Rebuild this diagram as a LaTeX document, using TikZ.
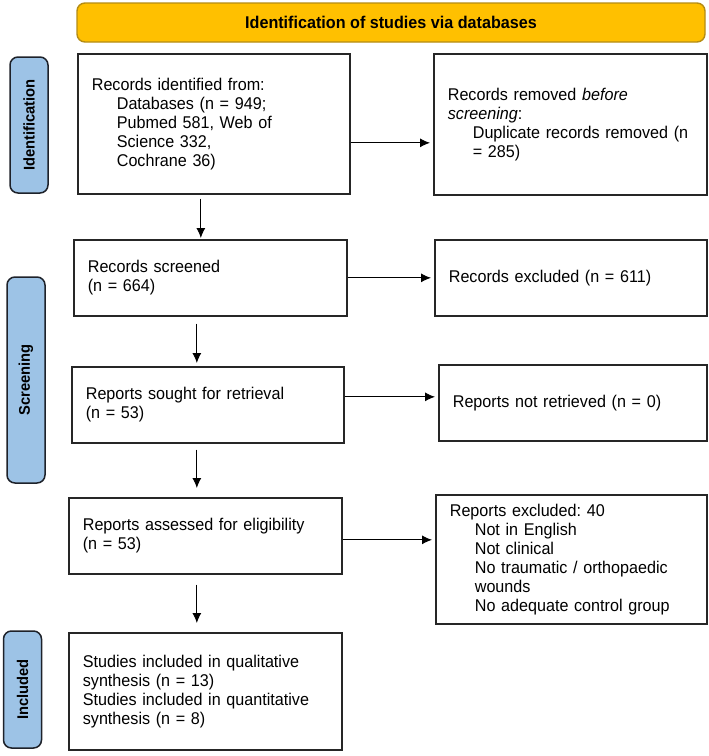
\documentclass[tikz,border=0pt]{standalone}
\usepackage{fontspec}
\setmainfont{Liberation Sans}[FakeStretch=0.95]
\usetikzlibrary{arrows.meta}
\definecolor{hdrfill}{RGB}{255,192,0}
\definecolor{hdrline}{RGB}{180,140,20}
\definecolor{tabfill}{RGB}{157,195,230}
\definecolor{tabline}{RGB}{30,34,42}
\definecolor{boxline}{RGB}{38,38,38}
\newcommand{\indentline}{\hspace*{25pt}}
\frenchspacing
\begin{document}
\begin{tikzpicture}[x=1pt,y=-1pt,font=\fontsize{17}{19}\selectfont,
    box/.style={draw=boxline,line width=1.7pt,anchor=north west,align=left,inner xsep=14pt,inner ysep=0pt},
    tab/.style={draw=tabline,fill=tabfill,line width=1.5pt,rounded corners=8pt,rotate=90,inner sep=0pt,
      minimum height=38pt,font=\bfseries\fontsize{15.5}{17}\selectfont},
    arr/.style={-{Latex[length=10pt,width=9pt]},line width=0.9pt,shorten >=3pt}]
  \useasboundingbox (0,0) rectangle (709,756);

  \node[draw=hdrline,fill=hdrfill,line width=1.4pt,rounded corners=8pt,inner sep=0pt,
    minimum width=628pt,minimum height=39pt,font=\bfseries\fontsize{17}{19}\selectfont]
    (hdr) at (391,22.5) {Identification of studies via databases};

  \node[tab,minimum width=136pt] (tabid) at (29,125) {Identification};
  \node[tab,minimum width=206pt] (tabscr) at (26,380) {Screening};
  \node[tab,minimum width=117pt] (tabinc) at (22.5,689.5) {Included};

  % left column
  \node[box,text width=244pt,minimum height=140pt] (ident) at (77,53)
    {Records identified from:\\\indentline Databases (n = 949;\\\indentline Pubmed 581, Web of\\\indentline Science 332,\\\indentline Cochrane 36)};
  \node[box,text width=245pt,minimum height=76pt] (screened) at (73,239)
    {Records screened\\(n = 664)};
  \node[box,text width=244pt,minimum height=76pt] (sought) at (71,366)
    {Reports sought for retrieval\\(n = 53)};
  \node[box,text width=245pt,minimum height=76pt] (assessed) at (68,497)
    {Reports assessed for eligibility\\(n = 53)};
  \node[box,text width=245pt,minimum height=117pt] (included) at (68,632)
    {Studies included in qualitative\\synthesis (n = 13)\\Studies included in quantitative\\synthesis (n = 8)};

  % right column
  \node[box,text width=245pt,minimum height=141pt] (removed) at (433,53)
    {Records removed \textit{before}\\\textit{screening}:\\\indentline Duplicate records removed (n\\\indentline = 285)};
  \node[box,text width=244pt,minimum height=76pt] (excluded) at (434,239)
    {Records excluded (n = 611)};
  \node[box,text width=240pt,minimum height=76pt] (notretr) at (438,364)
    {Reports not retrieved (n = 0)};
  \node[box,text width=243pt,minimum height=129pt] (repexcl) at (435,494)
    {Reports excluded: 40\\\indentline Not in English\\\indentline Not clinical\\\indentline No traumatic / orthopaedic\\\indentline wounds\\\indentline No adequate control group};

  \draw[arr] ([yshift=-19pt]ident.east) -- ([yshift=-19pt]ident.east -| removed.west);
  \draw[arr] (screened.east) -- (screened.east -| excluded.west);
  \draw[arr] ([yshift=8pt]sought.east) -- ([yshift=8pt]sought.east -| notretr.west);
  \draw[arr] ([yshift=-4pt]assessed.east) -- ([yshift=-4pt]assessed.east -| repexcl.west);

  \draw[arr,shorten <=4pt,shorten >=1pt] ([xshift=-13pt]ident.south) -- ([xshift=-13pt]ident.south |- screened.north);
  \draw[arr,shorten <=7pt,shorten >=3pt] ([xshift=-13.5pt]screened.south) -- ([xshift=-13.5pt]screened.south |- sought.north);
  \draw[arr,shorten <=6pt,shorten >=9pt] ([xshift=-11pt]sought.south) -- ([xshift=-11pt]sought.south |- assessed.north);
  \draw[arr,shorten <=10pt,shorten >=9pt] ([xshift=-8.5pt]assessed.south) -- ([xshift=-8.5pt]assessed.south |- included.north);
\end{tikzpicture}
\end{document}
